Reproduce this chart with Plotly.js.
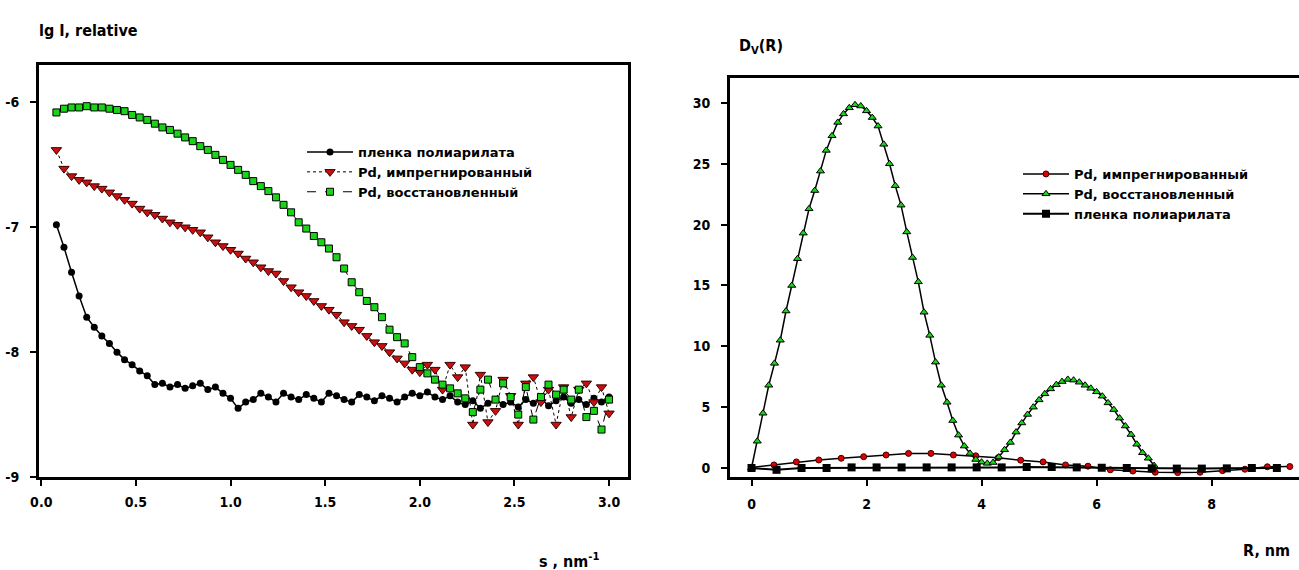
<!DOCTYPE html>
<html>
<head>
<meta charset="utf-8">
<script src="https://cdn.plot.ly/plotly-3.0.1.min.js"></script>
<style>html,body{margin:0;padding:0;background:#fff;}#chart{width:1299px;height:570px;}</style>
</head>
<body>
<div id="chart"></div>
<script>
// ---- Left panel: lg I vs s ----
const sValues = [0.08,0.12,0.16,0.20,0.24,0.28,0.32,0.36,0.40,0.44,0.48,0.52,0.56,0.60,0.64,0.68,0.72,0.76,0.80,0.84,0.88,0.92,0.96,1.00,1.04,1.08,1.12,1.16,1.20,1.24,1.28,1.32,1.36,1.40,1.44,1.48,1.52,1.56,1.60,1.64,1.68,1.72,1.76,1.80,1.84,1.88,1.92,1.96,2.00,2.04,2.08,2.12,2.16,2.20,2.24,2.28,2.32,2.36,2.40,2.44,2.48,2.52,2.56,2.60,2.64,2.68,2.72,2.76,2.80,2.84,2.88,2.92,2.96,3.00];
const filmLgI = [-6.98,-7.16,-7.36,-7.55,-7.72,-7.80,-7.87,-7.93,-8.00,-8.06,-8.10,-8.15,-8.19,-8.26,-8.25,-8.28,-8.26,-8.29,-8.27,-8.25,-8.30,-8.28,-8.33,-8.37,-8.45,-8.40,-8.38,-8.33,-8.36,-8.40,-8.33,-8.36,-8.38,-8.34,-8.37,-8.40,-8.33,-8.35,-8.38,-8.40,-8.34,-8.36,-8.39,-8.35,-8.37,-8.40,-8.36,-8.33,-8.35,-8.32,-8.36,-8.38,-8.35,-8.40,-8.42,-8.39,-8.45,-8.41,-8.38,-8.42,-8.40,-8.44,-8.38,-8.41,-8.37,-8.43,-8.39,-8.36,-8.41,-8.38,-8.42,-8.37,-8.40,-8.36];
const impregLgI = [-6.38,-6.53,-6.59,-6.62,-6.64,-6.67,-6.69,-6.72,-6.75,-6.78,-6.81,-6.85,-6.88,-6.90,-6.93,-6.96,-6.98,-7.00,-7.02,-7.04,-7.08,-7.12,-7.15,-7.18,-7.21,-7.25,-7.28,-7.32,-7.35,-7.37,-7.43,-7.48,-7.52,-7.55,-7.59,-7.63,-7.66,-7.70,-7.76,-7.79,-7.82,-7.87,-7.92,-7.95,-8.00,-8.05,-8.09,-8.14,-8.16,-8.10,-8.14,-8.30,-8.10,-8.20,-8.12,-8.58,-8.18,-8.56,-8.47,-8.22,-8.35,-8.58,-8.25,-8.20,-8.40,-8.30,-8.58,-8.28,-8.52,-8.30,-8.25,-8.40,-8.28,-8.49];
const reducedLgI = [-6.08,-6.05,-6.04,-6.04,-6.03,-6.04,-6.04,-6.05,-6.06,-6.07,-6.10,-6.12,-6.14,-6.17,-6.20,-6.22,-6.25,-6.28,-6.31,-6.35,-6.38,-6.42,-6.46,-6.50,-6.54,-6.58,-6.63,-6.67,-6.71,-6.76,-6.82,-6.88,-6.96,-7.01,-7.07,-7.12,-7.17,-7.24,-7.33,-7.44,-7.52,-7.59,-7.64,-7.72,-7.82,-7.88,-7.93,-8.04,-8.12,-8.17,-8.22,-8.26,-8.29,-8.33,-8.37,-8.48,-8.30,-8.22,-8.38,-8.25,-8.36,-8.50,-8.28,-8.54,-8.36,-8.26,-8.34,-8.30,-8.38,-8.30,-8.52,-8.47,-8.62,-8.38];

// ---- Right panel: Dv(R) vs R ----
const rFilm = [0,0.435,0.87,1.305,1.74,2.175,2.61,3.045,3.48,3.915,4.35,4.785,5.22,5.655,6.09,6.525,6.96,7.395,7.83,8.265,8.70,9.135];
const dvFilm = [0,-0.15,0,0,0.05,0.05,0.05,0.05,0.05,0.05,0.05,0.08,0.08,0.05,0.02,0,-0.03,-0.05,-0.05,-0.03,0,0];
const rImpreg = [0,0.39,0.78,1.17,1.56,1.95,2.34,2.73,3.12,3.51,3.90,4.29,4.68,5.07,5.46,5.85,6.24,6.63,7.02,7.41,7.80,8.19,8.58,8.97,9.36];
const dvImpreg = [0.05,0.25,0.5,0.66,0.8,0.93,1.07,1.2,1.2,1.07,1.0,0.85,0.64,0.5,0.25,0.15,-0.15,-0.25,-0.35,-0.38,-0.35,-0.22,-0.1,0.1,0.12];
const rReduced = [0.0,0.1,0.2,0.3,0.4,0.5,0.6,0.7,0.8,0.9,1.0,1.1,1.2,1.3,1.4,1.5,1.6,1.7,1.8,1.9,2.0,2.1,2.2,2.3,2.4,2.5,2.6,2.7,2.8,2.9,3.0,3.1,3.2,3.3,3.4,3.5,3.6,3.7,3.8,3.9,4.0,4.1,4.2,4.3,4.4,4.5,4.6,4.7,4.8,4.9,5.0,5.1,5.2,5.3,5.4,5.5,5.6,5.7,5.8,5.9,6.0,6.1,6.2,6.3,6.4,6.5,6.6,6.7,6.8,6.9,7.0];
const dvReduced = [0.0,2.2,4.5,6.8,8.6,10.5,12.9,15.0,17.2,19.3,21.3,22.8,24.4,26.1,27.3,28.4,29.1,29.6,29.85,29.75,29.35,28.8,28.1,26.6,25.0,23.2,21.6,19.4,17.3,15.3,12.8,10.9,8.7,6.8,5.4,3.9,2.7,1.8,1.2,0.7,0.48,0.38,0.45,0.9,1.5,2.1,2.95,3.7,4.4,5.0,5.6,6.1,6.5,6.85,7.1,7.28,7.22,7.05,6.8,6.55,6.26,5.9,5.35,4.8,4.1,3.45,2.75,1.95,1.25,0.8,0.2];

const leftTicks = [0.0,0.5,1.0,1.5,2.0,2.5,3.0];
const leftTickLabels = ['0.0','0.5','1.0','1.5','2.0','2.5','3.0'];
const leftYTicks = [-9,-8,-7,-6];
const leftYTickLabels = ['-9','-8','-7','-6'];
const rightTicks = [0,2,4,6,8];
const rightYTicks = [0,5,10,15,20,25,30];

const nameFilm = 'пленка полиарилата';
const nameImpreg = 'Pd, импрегнированный';
const nameReduced = 'Pd, восстановленный';

const FONT = 'DejaVu Sans Condensed, Liberation Sans, Arial';
const tickFont = {family: FONT, size: 14, color: '#000', weight: 700};
const legFont = {family: 'DejaVu Sans, Liberation Sans, Arial', size: 13, color: '#000', weight: 700};
const titleFont = {family: FONT, size: 16, color: '#000', weight: 700};

const traces = [
  {x: sValues, y: filmLgI, name: nameFilm, xaxis: 'x', yaxis: 'y', mode: 'lines+markers',
   line: {color: '#000', width: 1.5}, marker: {symbol: 'circle', size: 7, color: '#000'}, legend: 'legend'},
  {x: sValues, y: impregLgI, name: nameImpreg, xaxis: 'x', yaxis: 'y', mode: 'lines+markers',
   line: {color: '#000', width: 1, dash: 'dot'}, marker: {symbol: 'triangle-down', size: 9, color: '#c81010', line: {color: '#3a0000', width: 1}}, legend: 'legend'},
  {x: sValues, y: reducedLgI, name: nameReduced, xaxis: 'x', yaxis: 'y', mode: 'lines+markers',
   line: {color: '#000', width: 1, dash: 'dash'}, marker: {symbol: 'square', size: 7, color: '#1ad41a', line: {color: '#000', width: 1}}, legend: 'legend'},
  {x: rImpreg, y: dvImpreg, name: nameImpreg, xaxis: 'x2', yaxis: 'y2', mode: 'lines+markers',
   line: {color: '#000', width: 1.5}, marker: {symbol: 'circle', size: 6, color: '#dd0000', line: {color: '#400000', width: 1}}, legend: 'legend2'},
  {x: rReduced, y: dvReduced, name: nameReduced, xaxis: 'x2', yaxis: 'y2', mode: 'lines+markers',
   line: {color: '#000', width: 1.5}, marker: {symbol: 'triangle-up', size: 7, color: '#1ad41a', line: {color: '#000', width: 1}}, legend: 'legend2'},
  {x: rFilm, y: dvFilm, name: nameFilm, xaxis: 'x2', yaxis: 'y2', mode: 'lines+markers',
   line: {color: '#000', width: 2}, marker: {symbol: 'square', size: 8, color: '#000'}, legend: 'legend2'}
];

const axisCommon = {showgrid: false, zeroline: false, showline: true, linecolor: '#000', linewidth: 3,
  ticks: 'outside', ticklen: 6, tickwidth: 2, tickcolor: '#000', tickfont: tickFont};

const layout = {
  width: 1299, height: 570,
  margin: {l: 0, r: 0, t: 0, b: 0},
  paper_bgcolor: '#fff', plot_bgcolor: '#fff',
  showlegend: true,
  xaxis: Object.assign({}, axisCommon, {domain: [39/1299, 628/1299], range: [-0.012, 3.1], tickvals: leftTicks, ticktext: leftTickLabels, mirror: true, anchor: 'y', ticklabelstandoff: 4}),
  yaxis: Object.assign({}, axisCommon, {domain: [93/570, 505/570], range: [-9.0, -5.70], tickvals: leftYTicks, ticktext: leftYTickLabels, mirror: true, anchor: 'x', ticklabelstandoff: 8}),
  xaxis2: Object.assign({}, axisCommon, {domain: [730/1299, 1.0], range: [-0.374, 9.52], tickvals: rightTicks, mirror: true, anchor: 'y2', ticklabelstandoff: 6}),
  yaxis2: Object.assign({}, axisCommon, {domain: [93/570, 492/570], range: [-0.74, 32.05], tickvals: rightYTicks, anchor: 'x2', ticklabelstandoff: 8}),
  legend: {x: 302/1299, y: 1 - 137/570, xanchor: 'left', yanchor: 'top', bgcolor: 'rgba(0,0,0,0)', font: legFont, tracegroupgap: 0, itemwidth: 46},
  legend2: {x: 1018/1299, y: 1 - 159/570, xanchor: 'left', yanchor: 'top', bgcolor: 'rgba(0,0,0,0)', font: legFont, tracegroupgap: 0, itemwidth: 46},
  annotations: [
    {text: 'lg I, relative', xref: 'paper', yref: 'paper', x: 37/1299, y: 1 - 31/570, xanchor: 'left', yanchor: 'middle', showarrow: false, font: titleFont},
    {text: 's , nm<sup>-1</sup>', xref: 'paper', yref: 'paper', x: 602/1299, y: 1 - 560/570, xanchor: 'right', yanchor: 'middle', showarrow: false, font: titleFont},
    {text: 'D<sub>V</sub>(R)', xref: 'paper', yref: 'paper', x: 737/1299, y: 1 - 46/570, xanchor: 'left', yanchor: 'middle', showarrow: false, font: titleFont},
    {text: 'R, nm', xref: 'paper', yref: 'paper', x: 1292/1299, y: 1 - 550/570, xanchor: 'right', yanchor: 'middle', showarrow: false, font: titleFont}
  ]
};

Plotly.newPlot('chart', traces, layout, {displayModeBar: false, staticPlot: true});
</script>
</body>
</html>
